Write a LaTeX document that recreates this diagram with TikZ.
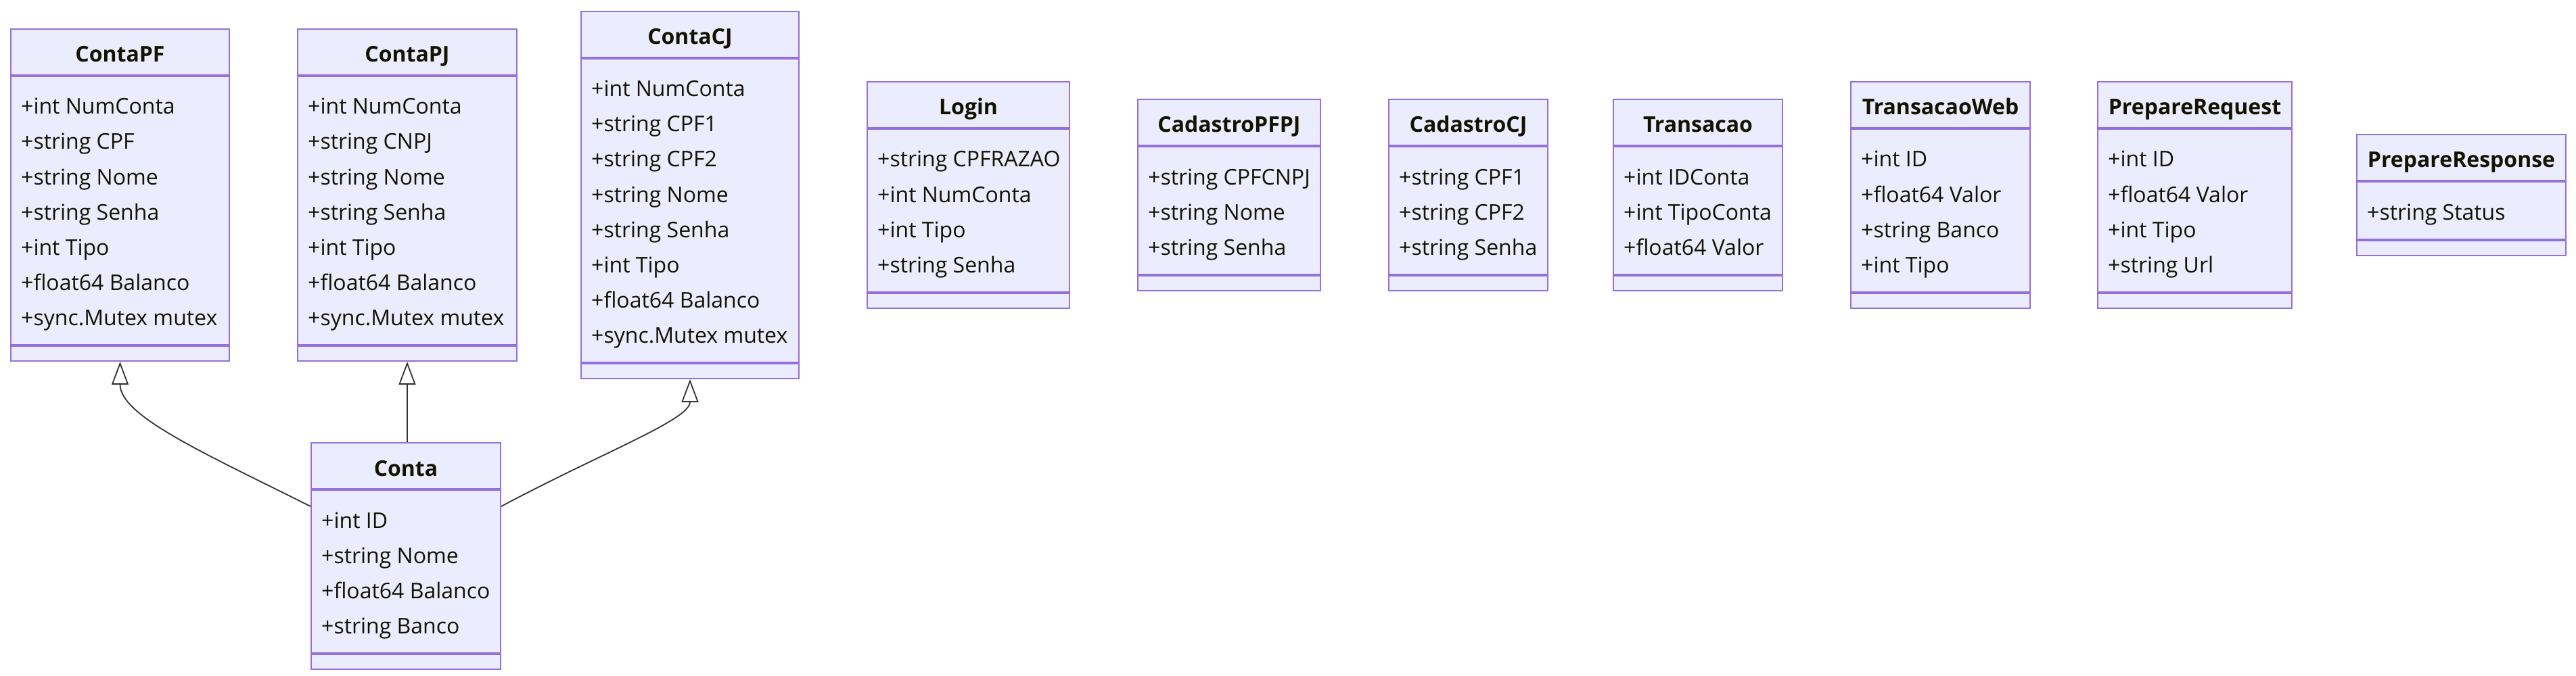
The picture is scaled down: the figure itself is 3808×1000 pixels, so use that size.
\documentclass[tikz,border=0pt]{standalone}
\usepackage{fontspec}
\setmainfont{Open Sans}
\usetikzlibrary{calc,arrows.meta}
\definecolor{ClassFill}{HTML}{ECECFF}
\definecolor{ClassLine}{HTML}{9370DB}
\definecolor{ClassText}{HTML}{131300}
\definecolor{EdgeGray}{HTML}{333333}

\tikzset{
  classhead/.style={draw=ClassLine, fill=ClassFill, line width=2pt,
    minimum height=68pt, inner sep=0pt, text height=30pt, text depth=0pt,
    text=ClassText, font=\fontsize{32}{38}\selectfont\bfseries},
  classbody/.style={draw=ClassLine, fill=ClassFill, line width=2pt, inner sep=0pt},
  classfoot/.style={draw=ClassLine, fill=ClassFill, line width=2pt,
    minimum height=22pt, inner sep=0pt},
  member/.style={inner sep=0pt, text=ClassText, font=\fontsize{32}{38}\selectfont},
  inherit/.style={draw=EdgeGray, line width=1.8pt,
    -{Triangle[length=34pt, width=25pt, fill=white]}}
}

% name, left, top, width, rows, title, members
\newcommand{\classbox}[7]{%
  \node[classhead, minimum width=#4pt, anchor=north west] (#1-h) at (#2,#3) {#6};
  \node[classbody, minimum width=#4pt, minimum height={#5*52+33}, anchor=north] (#1-m) at (#1-h.south) {};
  \node[classfoot, minimum width=#4pt, anchor=north] (#1) at (#1-m.south) {};
  \foreach \m [count=\i] in {#7}
    \node[member, anchor=base west] (#1-\i) at ([xshift=16pt, yshift={-57pt-(\i-1)*52pt}]#1-h.south west) {\m};
}

\begin{document}
\begin{tikzpicture}[x=1pt, y=-1pt]
  \useasboundingbox (0,0) rectangle (3808,1000);

  % contas
  \classbox{pf}{15}{42}{323}{7}{ContaPF}{+int NumConta, +string CPF, +string Nome, +string Senha, +int Tipo, +float64 Balanco, +sync.Mutex mutex}
  \classbox{pj}{439}{42}{324}{7}{ContaPJ}{+int NumConta, +string CNPJ, +string Nome, +string Senha, +int Tipo, +float64 Balanco, +sync.Mutex mutex}
  \classbox{cj}{858}{16}{322}{8}{ContaCJ}{+int NumConta, +string CPF1, +string CPF2, +string Nome, +string Senha, +int Tipo, +float64 Balanco, +sync.Mutex mutex}
  \classbox{ca}{459}{654}{280}{4}{Conta}{+int ID, +string Nome, +float64 Balanco, +string Banco}

  % requests
  \classbox{lg}{1281}{120}{299}{4}{Login}{+string CPFRAZAO, +int NumConta, +int Tipo, +string Senha}
  \classbox{cpfpj}{1681}{146}{270}{3}{CadastroPFPJ}{+string CPFCNPJ, +string Nome, +string Senha}
  \classbox{ccj}{2052}{146}{235}{3}{CadastroCJ}{+string CPF1, +string CPF2, +string Senha}
  \classbox{tr}{2384}{146}{250}{3}{Transacao}{+int IDConta, +int TipoConta, +float64 Valor}
  \classbox{tw}{2735}{120}{265}{4}{TransacaoWeb}{+int ID, +float64 Valor, +string Banco, +int Tipo}
  \classbox{preq}{3100}{120}{287}{4}{PrepareRequest}{+int ID, +float64 Valor, +int Tipo, +string Url}
  \classbox{pres}{3483}{198}{309}{1}{PrepareResponse}{+string Status}

  % heranca
  \draw[inherit] ($(ca-m.north west)+(0,25)$) .. controls +(-160,-80) and +(0,80) .. (pf.south);
  \draw[inherit] (pj.south |- ca-h.north) -- (pj.south);
  \draw[inherit] ($(ca-m.north east)+(0,25)$) .. controls +(150,-80) and +(0,60) .. (cj.south);
\end{tikzpicture}
\end{document}
